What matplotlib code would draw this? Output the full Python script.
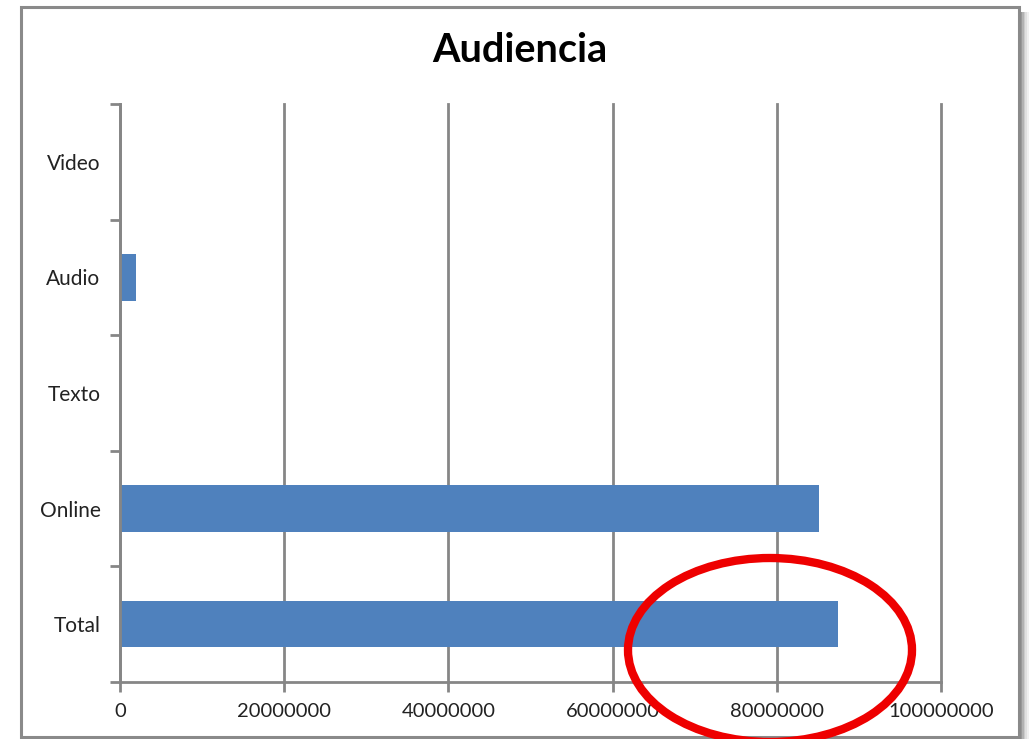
import matplotlib
matplotlib.use("Agg")
import matplotlib.pyplot as plt
from matplotlib.patches import Rectangle, Ellipse

categories = ["Total", "Online", "Texto", "Audio", "Video"]
values = [87400000, 85100000, 0, 1900000, 0]
xticks = [0, 20000000, 40000000, 60000000, 80000000, 100000000]
xtick_labels = ["0", "20000000", "40000000", "60000000", "80000000", "100000000"]
title = "Audiencia"

W, H = 1033, 739
fig = plt.figure(figsize=(W / 100, H / 100), dpi=100)
fig.patch.set_facecolor("white")

def fx(px):
    return px / W

def fy(py):
    return 1 - py / H

grey = "#868686"
font = ["Lato", "DejaVu Sans"]

# chart frame with shadow
for i, a in enumerate([0.40, 0.30, 0.20, 0.12, 0.06]):
    fig.add_artist(Rectangle((fx(1020 + i * 1.8), fy(739)), fx(1.8), fy(12) - fy(739),
                             transform=fig.transFigure, facecolor="black", alpha=a,
                             edgecolor="none", zorder=-11))
fig.add_artist(Rectangle((fx(21), fy(737)), fx(1019) - fx(21), fy(7) - fy(737),
                         transform=fig.transFigure, facecolor="white",
                         edgecolor="#8a8a8a", linewidth=2.2, zorder=-10))

ax = fig.add_axes([fx(120), fy(682), fx(941) - fx(120), fy(104) - fy(682)])
ax.set_facecolor("none")
ax.set_zorder(1)
ypos = list(range(len(categories)))
ax.barh(ypos, values, height=0.4, color="#4F81BD", zorder=3)
ax.set_xlim(0, 100000000)
ax.set_ylim(-0.5, len(categories) - 0.5)

ax.set_xticks(xticks)
ax.set_xticklabels(xtick_labels, fontsize=14.5, family=font, color="#222222")
ax.set_yticks(ypos)
ax.set_yticklabels(categories, fontsize=15, family=font, color="#222222")
ax.set_yticks([y - 0.5 for y in range(len(categories) + 1)], minor=True)
ax.tick_params(axis="y", which="major", length=0, pad=14)
ax.tick_params(axis="y", which="minor", length=7, width=2, color=grey)
ax.tick_params(axis="x", which="major", length=7, width=2, color=grey, pad=8)

ax.grid(axis="x", color=grey, linewidth=2, zorder=0)
for gl in ax.get_xgridlines():
    gl.set_clip_on(False)
for s in ["top", "right"]:
    ax.spines[s].set_visible(False)
for s in ["left", "bottom"]:
    ax.spines[s].set_color(grey)
    ax.spines[s].set_linewidth(2)
    ax.spines[s].set_zorder(4)

fig.text(fx(520), fy(50), title, ha="center", va="center", fontsize=28.5,
         fontweight="bold", family=font, color="black")

# red ellipse annotation
fig.add_artist(Ellipse((fx(770), fy(650)), fx(284), fy(0) - fy(184),
                       transform=fig.transFigure, fill=False, edgecolor="#EE0000",
                       linewidth=6, zorder=10))

fig.savefig("out.png", dpi=100)
